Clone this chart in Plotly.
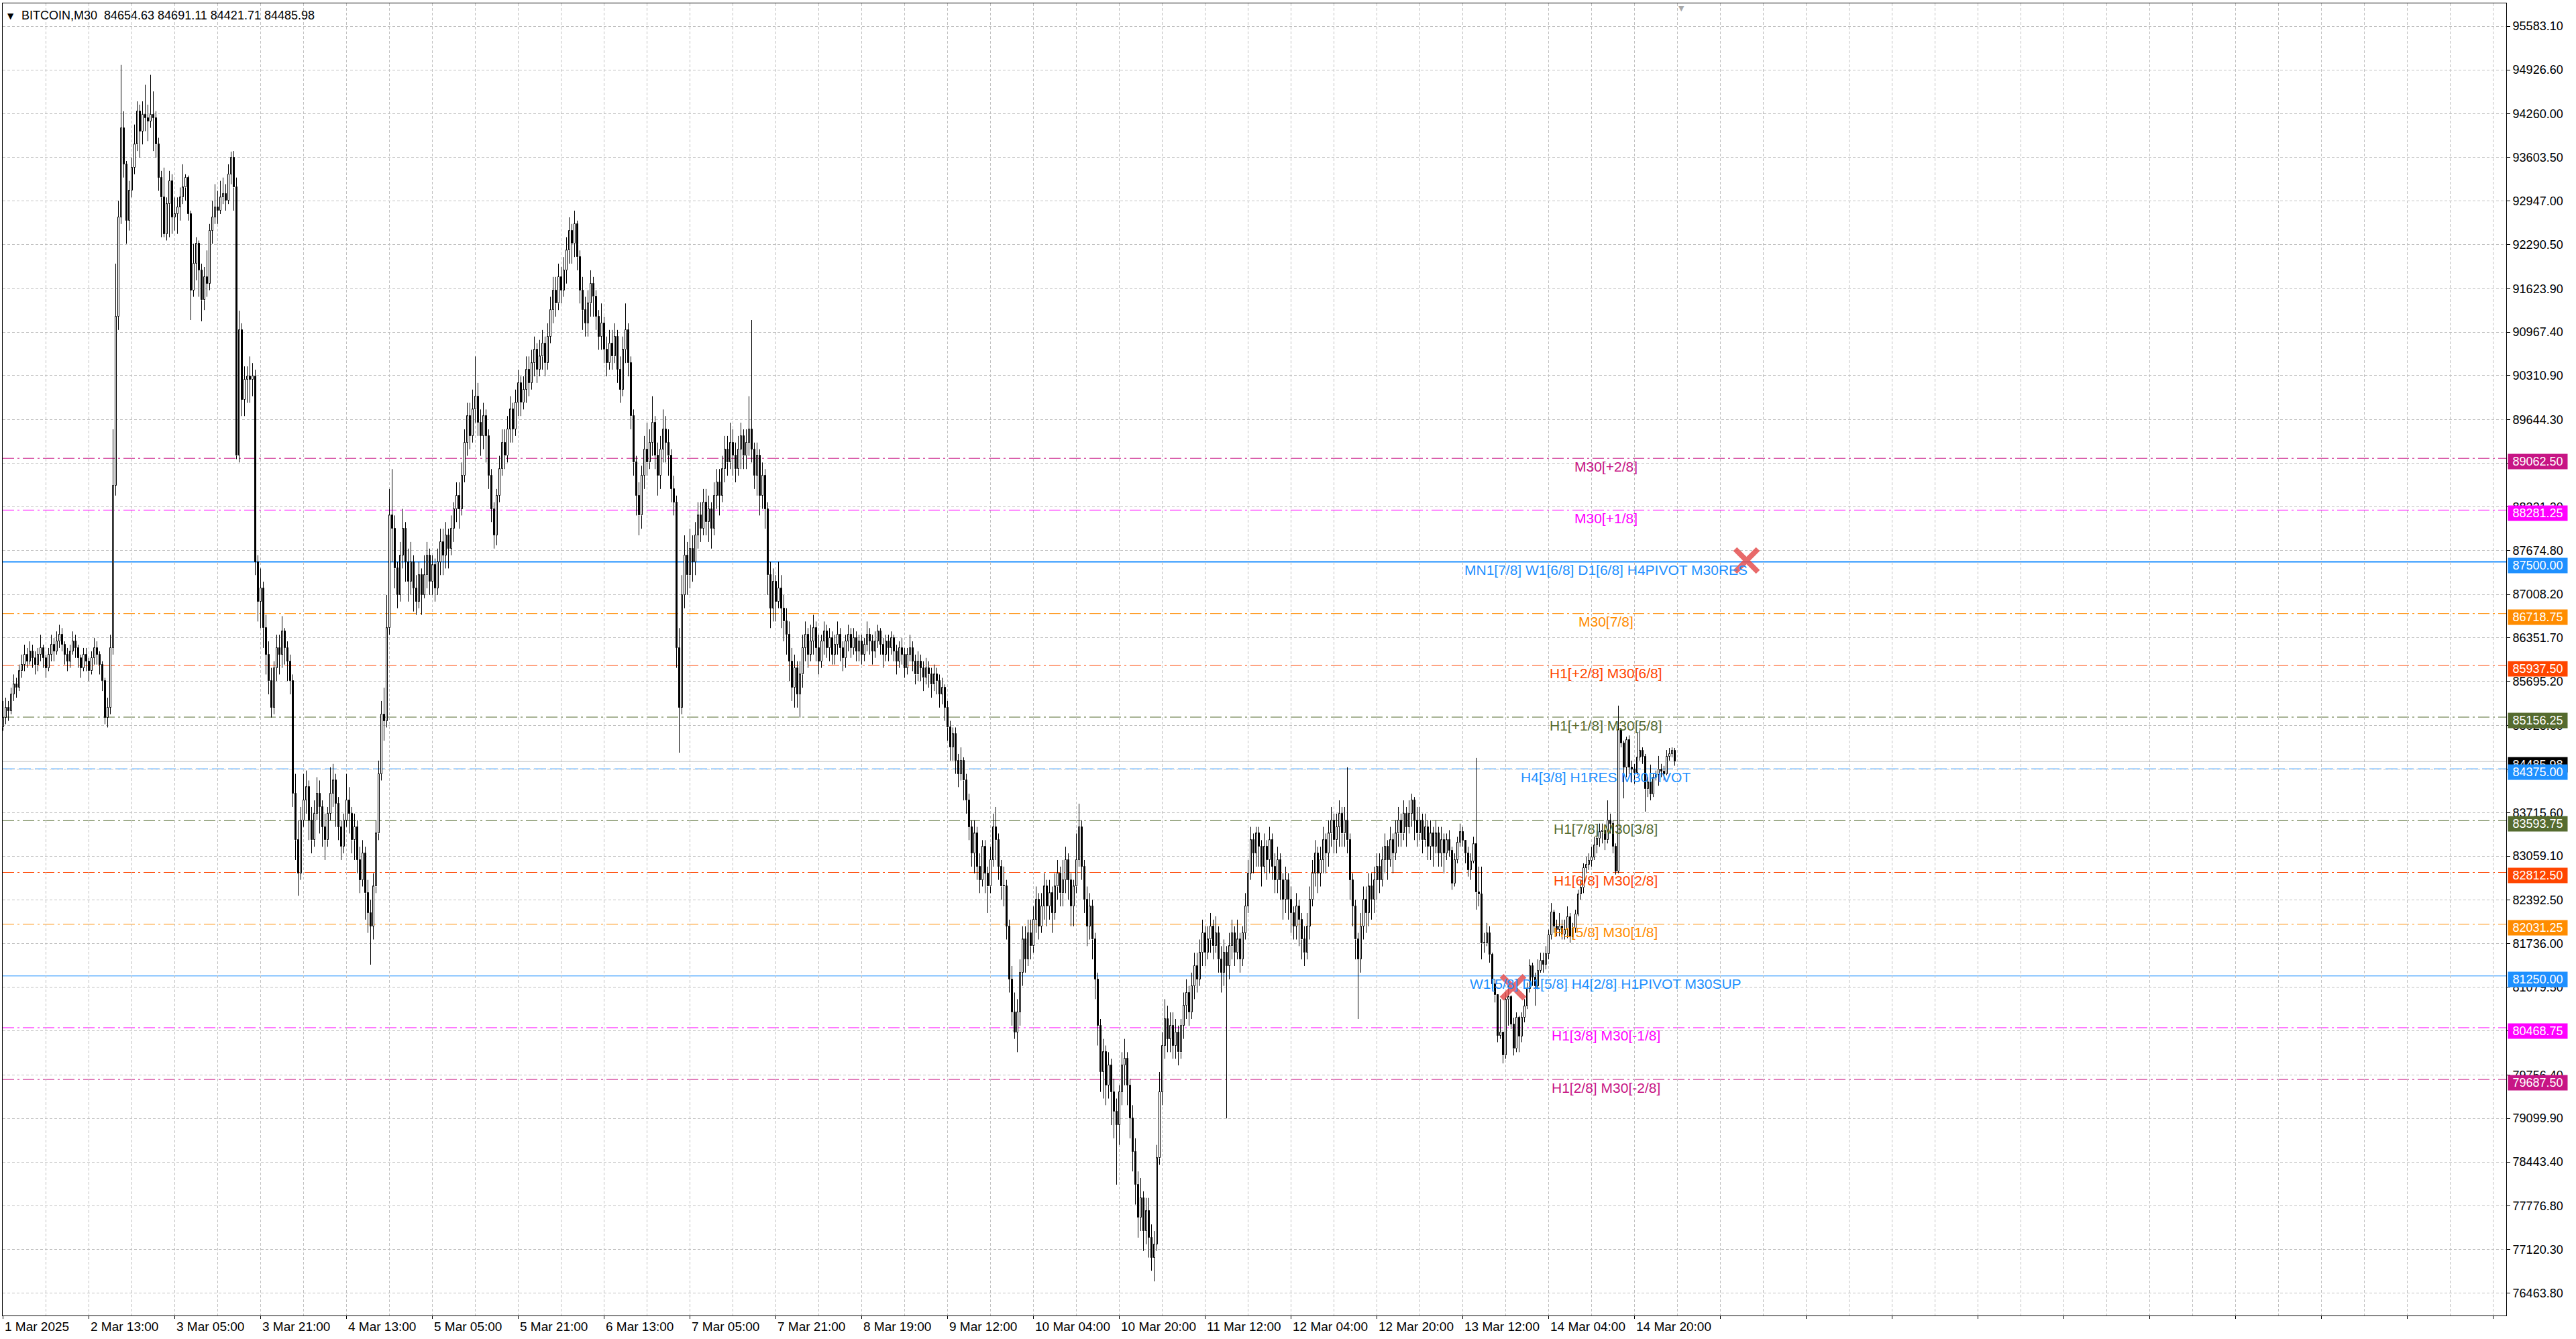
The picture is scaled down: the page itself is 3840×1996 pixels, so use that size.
import plotly.graph_objects as go

# ---------------- data ----------------
first_open = 85000.0
closes = [
    85150, 85300, 85250, 85500, 85650, 85600, 85850, 85950, 86100, 86000,
    86150, 86050, 85950, 86100, 86200, 86050, 85900, 86100, 86250, 86150,
    86300, 86400, 86250, 86100, 86000, 86150, 86300, 86200, 86050, 85900,
    86100, 86000, 85850, 86050, 86200, 86100, 85950, 85700, 85150, 85300,
    86200, 88650, 91200, 92700, 94050, 93500, 92650, 93100, 93450, 93800,
    94300, 94000, 94250, 94200, 94150, 94250, 94200, 93800, 93300, 93000,
    92450, 92900, 93250, 92700, 92750, 92850, 93000, 93150, 93300, 92750,
    91600, 92000, 92300, 91900, 91450, 91800, 91700, 92500, 92700, 92850,
    92800, 93000, 93050, 92950, 93350, 93600, 93150, 89100, 91000, 89950,
    90250, 90300, 90250, 90300, 87500, 86900, 87100, 86500, 86100, 85700,
    85300, 85900, 86200, 86100, 86450, 86200, 86000, 85700, 84000, 83300,
    82800, 83600, 83900, 84100, 83600, 83300, 83700, 84000, 83800, 83500,
    83300, 83700, 84000, 84200, 83850, 83500, 83200, 83600, 83900, 83700,
    83300, 83500, 83000, 82700, 83100, 82500, 82200, 82000, 82600, 83400,
    84300, 85200, 85100, 86500, 88200, 88000, 87400, 87000, 87600, 88000,
    87500, 87200, 87500, 87100, 86900, 87300, 87000, 87300, 87600, 87200,
    87450, 87100, 87500, 87800, 87600, 87900, 87700, 88000, 88300, 88500,
    88300, 88800, 89300, 89700, 89400, 89800, 90000, 89600, 89400, 89700,
    89400, 88800, 88300, 87900, 88500, 88900, 89300, 89100, 89500, 89800,
    89500, 89900, 90200, 89900, 90100, 90400, 90200, 90500, 90700, 90400,
    90600, 90800, 90500, 90900, 91300, 91600, 91400, 91800, 91600, 91900,
    92200, 92500, 92300, 92600, 92100, 91600, 91300, 91100, 91400, 91700,
    91500, 91200, 90900, 91100, 90700, 90500, 90800, 90600, 90900, 90400,
    90100, 90700, 91000, 90500, 89700, 89000, 88500, 88200, 88800, 89200,
    89000, 89300, 89600, 89100, 88800, 89200, 89500, 89300, 89100, 88600,
    88400, 86200, 85300, 87000, 87600, 87300, 87700, 87500, 87900, 88200,
    88000, 88400, 88100, 88300, 88000, 88500, 88700, 88500, 88900, 89200,
    89000, 89300, 89100, 88900, 89200, 89400, 89100, 89300, 89500, 89200,
    88800, 89100, 88500, 88800, 88300, 87300, 86800, 87200, 86900, 87100,
    86800, 86600, 86400, 86000, 85600, 85900, 85500, 85800, 86200, 86400,
    86100, 86300, 86500, 86200, 86000, 86300, 86450, 86200, 86350, 86100,
    86250, 86400, 86200, 86050, 86300, 86400, 86200, 86350, 86150, 86300,
    86100, 86250, 86400, 86300, 86150, 86300, 86450, 86250, 86100, 86300,
    86200, 86350, 86150, 86000, 86200, 86100, 85900, 86100, 86200, 86000,
    85800, 86000, 85900, 85750, 85900, 85800, 85650, 85800, 85700, 85500,
    85600, 85300, 85000, 84700, 84900, 84500, 84300, 84500, 84200, 83900,
    83500, 83100, 83400, 82900, 82700, 83200, 82800, 82600, 83000, 83500,
    83300, 82900, 82600, 82600, 82000, 81200, 80700, 80400, 80700, 81300,
    81800, 81500, 81900, 81700, 82100, 82400, 82000, 82300, 82600, 82300,
    82500, 82200, 82600, 82800, 82500, 82700, 83000, 82700, 82300, 82600,
    83000, 83500, 82900, 82400, 82000, 82300, 81800, 81200, 80500, 79800,
    80100, 79600, 79900, 79500, 79200, 79000, 79500, 79900, 80000, 79600,
    79100, 78600, 78100, 77600, 77900, 77400, 77700, 77300, 77000, 77200,
    78500, 79500, 80200, 80600, 80300, 80500, 80200, 80400, 80100, 80500,
    80800, 81000, 80700, 81100, 81400, 81200, 81600, 81900, 81600, 81800,
    82000, 81700, 81900, 81500, 81300, 81600, 81400, 81700, 81900, 81600,
    81800, 81500, 81900, 82300, 82800, 83300, 83100, 83400, 83200, 82900,
    83200, 83000, 83300, 82900, 82700, 83000, 82700, 82400, 82700, 82400,
    82200, 82000, 82300, 82100, 81800, 81600, 82000, 82400, 82800, 83100,
    82800, 83000, 83300, 83100, 83400, 83600, 83300, 83500, 83700, 83400,
    83600, 83300, 82700, 82300, 81800, 81500, 82000, 82400, 82200, 82600,
    82400, 82700, 82900, 82700, 83000, 83200, 83000, 83300, 83100, 83400,
    83600, 83400, 83700, 83500, 83700, 83900, 83600, 83400, 83600, 83300,
    83500, 83200, 83400, 83200, 83400, 83100, 83300, 83100, 83300, 83140,
    82650, 83000, 83260, 83420, 83290, 83100, 82850, 82980, 83240, 82510,
    82480, 81740, 81740, 81900, 81570, 81130, 80960, 80350, 80400, 80050,
    80890, 80930, 80520, 80150, 80620, 80340, 80620, 80790, 81060, 81400,
    81230, 81100, 81330, 81480, 81420, 81580, 81870, 82210, 82000, 81950,
    82000, 81880, 81950, 82140, 81840, 81970, 82180, 82480, 82580, 82880,
    82930, 82990, 83040, 83220, 83320, 83420, 83450, 83300, 83600, 83550,
    83200, 82830, 84960, 84760, 84400, 84810, 84400, 84370, 84320, 84550,
    84650, 84560, 84070, 84170, 83990, 84250, 84290, 84370, 84340, 84300,
    84560, 84600, 84654.63, 84485.98,
]
highs = [
    85400, 85450, 85400, 85600, 85800, 85750, 85950, 86100, 86250, 86200,
    86300, 86250, 86150, 86200, 86400, 86250, 86100, 86200, 86400, 86350,
    86450, 86550, 86500, 86300, 86200, 86250, 86450, 86400, 86250, 86100,
    86200, 86200, 86050, 86150, 86350, 86300, 86150, 86000, 85750, 85450,
    86400, 89500, 92000, 92950, 95000, 94300, 93550, 93250, 93600, 94100,
    94450, 94400, 94450, 94700, 94400, 94850, 94600, 94300, 93900, 93400,
    93450, 93000, 93400, 93350, 93000, 93000, 93150, 93500, 93350, 93330,
    92800, 92300, 92400, 92350, 92000, 91950, 92200, 92600, 92950, 93200,
    93100, 93250, 93300, 93200, 93500, 93690, 93700, 93300, 91290, 91100,
    90450, 90450, 90600, 90500, 90400, 87600, 87400, 87200, 86700, 86300,
    85900, 86000, 86400, 86400, 86680, 86500, 86300, 86100, 85800, 84300,
    83600, 83800, 84300, 84350, 84200, 83800, 83900, 84250, 84200, 83900,
    83700, 83800, 84400, 84450, 84300, 83950, 83600, 83700, 84300, 84100,
    83800, 83700, 83600, 83200, 83300, 83200, 82700, 82400, 82800, 83600,
    84500, 85400, 85600, 87000, 88600, 88900, 88200, 87500, 87800, 88300,
    88100, 87700, 87800, 87600, 87300, 87500, 87400, 87600, 87800, 87700,
    87600, 87550, 87700, 88000, 88000, 88100, 88000, 88200, 88400, 88700,
    88700, 89000, 89500, 89900, 89900, 90100, 90600, 90200, 89800, 89900,
    89800, 89500, 88900, 88400, 88600, 89100, 89500, 89500, 89700, 90000,
    89900, 90100, 90400, 90300, 90300, 90600, 90600, 90700, 90900, 90800,
    90850, 91000, 90900, 91100, 91500, 91800, 91800, 92000, 91950, 92100,
    92400, 92700, 92600, 92800, 92650, 92200, 91800, 91500, 91600, 91900,
    91800, 91600, 91300, 91400, 91200, 90900, 91000, 91000, 91100, 91000,
    90600, 90900, 91400, 91100, 90600, 89800, 89100, 88700, 88950, 89400,
    89600, 89500, 90000, 89700, 89300, 89400, 89800, 89700, 89500, 89200,
    88800, 88500, 86500, 87300, 87900, 87800, 88000, 87900, 88100, 88400,
    88400, 88600, 88600, 88500, 88400, 88700, 88900, 88900, 89100, 89400,
    89400, 89600, 89500, 89300, 89400, 89600, 89500, 89500, 90000, 91150,
    89300, 89300, 89200, 89000, 88900, 88400, 87500, 87400, 87300, 87500,
    87300, 87000, 86800, 86600, 86200, 86100, 86000, 86000, 86400, 86600,
    86500, 86550, 86700, 86600, 86400, 86400, 86600, 86550, 86500, 86450,
    86400, 86600, 86500, 86300, 86400, 86550, 86500, 86500, 86450, 86400,
    86400, 86350, 86600, 86500, 86400, 86450, 86550, 86500, 86350, 86400,
    86400, 86450, 86400, 86250, 86300, 86350, 86200, 86200, 86400, 86300,
    86100, 86150, 86100, 86000, 86050, 86000, 85900, 85950, 85900, 85800,
    85750, 85650, 85400, 85100, 85000, 85000, 84600, 84700, 84550, 84300,
    84000, 83600, 83600, 83500, 83100, 83300, 83300, 82900, 83200, 83700,
    83800, 83400, 83000, 82900, 82700, 82100, 81400, 81000, 80900, 81500,
    82000, 82000, 82100, 82100, 82300, 82600, 82500, 82500, 82800, 82700,
    82700, 82600, 82800, 83000, 82900, 83000, 83200, 83100, 82800, 82700,
    83400, 83850, 83600, 83000, 82600, 82500, 82400, 81900, 81300, 80600,
    80300, 80200, 80100, 80000, 79700, 79400, 79600, 80100, 80300, 80100,
    79700, 79300, 78800, 78300, 78200, 78000, 77900, 77900, 77500, 77400,
    78700, 79800, 80400, 80900, 80800, 80700, 80700, 80600, 80500, 80600,
    81000, 81200, 81100, 81300, 81600, 81600, 81800, 82100, 82000, 82000,
    82200, 82100, 82150, 82000, 81700, 81800, 81700, 81900, 82100, 82000,
    82100, 81900, 82000, 82500, 83000, 83500, 83400, 83500, 83500, 83300,
    83400, 83300, 83500, 83400, 83100, 83200, 83100, 82800, 82900, 82800,
    82600, 82300, 82500, 82400, 82200, 82000, 82200, 82600, 83000, 83300,
    83200, 83200, 83500, 83400, 83600, 83800, 83700, 83700, 83900, 83800,
    83800, 84400, 83400, 82800, 82400, 81900, 82200, 82600, 82600, 82800,
    82800, 82900, 83100, 83100, 83200, 83400, 83300, 83500, 83400, 83600,
    83800, 83700, 83900, 83800, 83900, 84000, 83950, 83800, 83800, 83700,
    83700, 83600, 83600, 83500, 83600, 83500, 83500, 83400, 83400, 83450,
    83200, 83100, 83350, 83550, 83500, 83300, 83200, 83100, 83350, 84540,
    82900, 82900, 81900, 82050, 82000, 81600, 81200, 80900, 80900, 80400,
    81000, 81100, 80960, 80620, 80700, 80650, 80700, 80900, 81150, 81500,
    81450, 81300, 81500, 81600, 81600, 81700, 81950, 82350, 82250, 82100,
    82200, 82100, 82100, 82300, 82200, 82050, 82250, 82550, 82700, 82950,
    83050, 83100, 83200, 83350, 83450, 83550, 83550, 83500, 83900, 83700,
    83600, 83250, 85330, 84990, 84800, 84860, 84880, 84500, 84450, 84930,
    84960, 84700, 84600, 84250, 84440, 84300, 84350, 84570, 84450, 84420,
    84660, 84690, 84700, 84691.11,
]
lows = [
    84950, 85050, 85100, 85200, 85400, 85450, 85550, 85750, 85850, 85900,
    85950, 85900, 85800, 85850, 86000, 85900, 85750, 85850, 86000, 86000,
    86100, 86200, 86150, 85950, 85850, 85900, 86100, 86050, 85900, 85750,
    85850, 85850, 85700, 85800, 85950, 85950, 85800, 85550, 85050, 85000,
    85200, 86100, 88500, 91000, 92600, 93300, 92300, 92500, 93000, 93350,
    93700, 93600, 93800, 94000, 93850, 94050, 93700, 93600, 93100, 92400,
    92400, 92350, 92400, 92450, 92500, 92450, 92650, 92900, 92950, 92650,
    91150, 91500, 91750, 91500, 91130, 91300, 91500, 91600, 92300, 92600,
    92600, 92750, 92900, 92800, 92900, 93200, 92800, 89050, 89000, 89700,
    89700, 89900, 89900, 90000, 87300, 86600, 86500, 86200, 85800, 85500,
    85150, 85200, 85700, 85800, 85900, 85950, 85700, 85500, 83800, 83000,
    82460, 82700, 83500, 83700, 83300, 83100, 83200, 83600, 83400, 83200,
    83000, 83200, 83600, 83800, 83500, 83300, 83000, 83100, 83500, 83400,
    83100, 83000, 82800, 82500, 82600, 82100, 81900, 81420, 81800, 82500,
    83300, 84200, 84800, 85000, 86400, 87500, 87100, 86800, 86900, 87400,
    87200, 86900, 87000, 86750, 86700, 86800, 86700, 86950, 87100, 87000,
    87000, 86900, 87000, 87300, 87300, 87400, 87400, 87600, 87800, 88100,
    88000, 88200, 88700, 89100, 89200, 89300, 89600, 89400, 89100, 89200,
    89000, 88600, 88100, 87700, 87750, 88400, 88800, 88900, 89000, 89300,
    89300, 89400, 89700, 89700, 89800, 89900, 90000, 90100, 90300, 90200,
    90300, 90400, 90300, 90400, 90800, 91100, 91200, 91300, 91400, 91500,
    91700, 92000, 92000, 92100, 91900, 91400, 91000, 90900, 90900, 91200,
    91200, 91000, 90700, 90700, 90500, 90300, 90400, 90400, 90500, 90200,
    89900, 90000, 90500, 90300, 89500, 88800, 88200, 87900, 88000, 88600,
    88800, 88900, 89100, 88900, 88500, 88600, 89000, 89000, 88800, 88400,
    88200, 85900, 84620, 85200, 86800, 87000, 87100, 87200, 87300, 87700,
    87800, 87900, 87900, 87800, 87700, 87900, 88300, 88200, 88400, 88700,
    88800, 88900, 88800, 88700, 88800, 88900, 88900, 88900, 89100, 89000,
    88600, 88500, 88200, 88300, 88000, 87000, 86500, 86600, 86600, 86800,
    86500, 86300, 86100, 85700, 85400, 85300, 85300, 85150, 85600, 86000,
    85900, 86000, 86100, 86000, 85800, 85900, 86100, 86050, 86000, 85950,
    85950, 86100, 86000, 85850, 85900, 86150, 86050, 86100, 86000, 86000,
    85950, 86000, 86150, 86100, 85950, 86050, 86200, 86100, 85900, 86000,
    86000, 86100, 86000, 85800, 85900, 85950, 85750, 85800, 86000, 85850,
    85650, 85700, 85700, 85550, 85650, 85600, 85450, 85550, 85500, 85300,
    85350, 85100, 84800, 84500, 84500, 84300, 84100, 84200, 83900, 83700,
    83300, 82900, 82800, 82700, 82500, 82600, 82500, 82200, 82500, 82900,
    83000, 82700, 82400, 82300, 81800, 81000, 80500, 80300, 80100, 80500,
    81100, 81300, 81400, 81500, 81600, 81900, 81800, 81900, 82100, 82000,
    82100, 81900, 82100, 82400, 82300, 82300, 82500, 82400, 82000, 82000,
    82500, 82900, 82700, 82200, 81700, 81800, 81500, 80900, 80200, 79500,
    79400, 79300, 79400, 79000, 78800, 78100, 78700, 79300, 79600, 79300,
    78800, 78300, 77800, 77300, 77400, 77100, 77200, 77000, 76800, 76640,
    77100, 78400, 79300, 80000, 80100, 80100, 80000, 80000, 79900, 80000,
    80300, 80600, 80500, 80600, 80900, 81000, 81100, 81400, 81400, 81500,
    81600, 81500, 81600, 81300, 81000, 81100, 79100, 81200, 81500, 81400,
    81500, 81300, 81400, 81800, 82200, 82700, 82800, 82900, 82900, 82600,
    82800, 82700, 82800, 82700, 82500, 82500, 82400, 82100, 82200, 82100,
    81900, 81800, 81800, 81700, 81500, 81400, 81500, 81800, 82300, 82600,
    82500, 82600, 82800, 82800, 82900, 83200, 83100, 83100, 83200, 83200,
    83200, 83100, 82400, 82000, 81500, 80600, 81300, 81800, 81900, 82000,
    82100, 82200, 82400, 82500, 82600, 82800, 82700, 82900, 82800, 83000,
    83200, 83200, 83300, 83200, 83400, 83500, 83300, 83200, 83300, 83100,
    83200, 83000, 83000, 82900, 83100, 82900, 82900, 82800, 83000, 83050,
    82550, 82600, 82950, 83200, 83200, 82950, 82750, 82700, 82950, 82250,
    82300, 81500, 81600, 81700, 81450, 81050, 80850, 80250, 80300, 79930,
    80000, 80500, 80450, 80050, 80100, 80100, 80250, 80550, 80750, 81000,
    81100, 80800, 81050, 81300, 81300, 81350, 81500, 81800, 81900, 81850,
    81850, 81800, 81800, 81820, 81750, 81800, 81900, 82150, 82400, 82500,
    82800, 82850, 82900, 83000, 83100, 83200, 83250, 83150, 83250, 83400,
    83100, 82780, 82800, 84700, 83930, 84250, 84300, 84170, 84150, 84280,
    84500, 84450, 83730, 83950, 83900, 83950, 84200, 84120, 84250, 84200,
    84280, 84500, 84550, 84421.71,
]

time_labels = ["1 Mar 2025", "2 Mar 13:00", "3 Mar 05:00", "3 Mar 21:00", "4 Mar 13:00",
               "5 Mar 05:00", "5 Mar 21:00", "6 Mar 13:00", "7 Mar 05:00", "7 Mar 21:00",
               "8 Mar 19:00", "9 Mar 12:00", "10 Mar 04:00", "10 Mar 20:00", "11 Mar 12:00",
               "12 Mar 04:00", "12 Mar 20:00", "13 Mar 12:00", "14 Mar 04:00", "14 Mar 20:00"]
bars_per_label = 32

price_ticks = [95583.10, 94926.60, 94260.00, 93603.50, 92947.00, 92290.50, 91623.90,
               90967.40, 90310.90, 89644.30, 88987.80, 88331.20, 87674.80, 87008.20,
               86351.70, 85695.20, 85028.60, 84372.10, 83715.60, 83059.10, 82392.50,
               81736.00, 81079.50, 80423.00, 79756.40, 79099.90, 78443.40, 77776.80,
               77120.30, 76463.80]

level_prices = [89062.50, 88281.25, 87500.00, 86718.75, 85937.50, 85156.25, 84375.00,
                83593.75, 82812.50, 82031.25, 81250.00, 80468.75, 79687.50]
level_names = ["M30[+2/8]", "M30[+1/8]", "MN1[7/8] W1[6/8] D1[6/8] H4PIVOT M30RES",
               "M30[7/8]", "H1[+2/8] M30[6/8]", "H1[+1/8] M30[5/8]",
               "H4[3/8] H1RES M30PIVOT", "H1[7/8] M30[3/8]", "H1[6/8] M30[2/8]",
               "H1[5/8] M30[1/8]", "W1[5/8] D1[5/8] H4[2/8] H1PIVOT M30SUP",
               "H1[3/8] M30[-1/8]", "H1[2/8] M30[-2/8]"]
level_colors = ["#C71585", "#FF00FF", "#1E90FF", "#FF8C00", "#FF4500", "#556B2F",
                "#1E90FF", "#556B2F", "#FF4500", "#FF8C00", "#1E90FF", "#FF00FF", "#C71585"]
level_styles = ["dashdot", "dashdot", "solid2", "dashdot", "dashdot", "dashdot",
                "dash", "dashdot", "dashdot", "dashdot", "solid", "dashdot", "dashdot"]

symbol_name = "BITCOIN,M30"
last_ohlc = [84654.63, 84691.11, 84421.71, 84485.98]
current_price = 84485.98

cross_bars = [649.75, 562.75]
cross_prices = [87520.0, 81080.0]

# ---------------- build ----------------
n = len(closes)
opens = [first_open] + closes[:-1]
idx = list(range(n))
his = [max(h, o, c) for h, o, c in zip(highs, opens, closes)]
los = [min(l, o, c) for l, o, c in zip(lows, opens, closes)]

wx, wy = [], []
for i in idx:
    top = max(opens[i], closes[i])
    bot = min(opens[i], closes[i])
    wx += [i, i, None, i, i, None]
    wy += [his[i], top, None, bot, los[i], None]

body_base = [min(o, c) for o, c in zip(opens, closes)]
body_h = [max(abs(c - o), 14) for o, c in zip(opens, closes)]
body_col = ["white" if c >= o else "black" for o, c in zip(opens, closes)]

FONT = "Liberation Sans, Arial, sans-serif"
GRID = "#C0C0C0"

fig = go.Figure()
fig.add_trace(go.Scatter(x=wx, y=wy, mode="lines", line=dict(color="black", width=1),
                         hoverinfo="skip", showlegend=False))
fig.add_trace(go.Bar(x=idx, y=body_h, base=body_base, width=0.5,
                     marker=dict(color=body_col, line=dict(color="black", width=1)),
                     hoverinfo="skip", showlegend=False))
fig.add_trace(go.Scatter(x=cross_bars, y=cross_prices, mode="markers",
                         marker=dict(symbol="x-thin", size=34,
                                     color="rgba(228,80,80,0.85)",
                                     line=dict(color="rgba(228,80,80,0.85)", width=8)),
                         hoverinfo="skip", showlegend=False))

shapes = []
for p, col, st in zip(level_prices, level_colors, level_styles):
    if st == "dashdot":
        dash, w = "17px,5px,3px,5px", 1
    elif st == "dash":
        dash, w = "18px,6px", 1
    elif st == "solid2":
        dash, w = "solid", 2
    else:
        dash, w = "solid", 1
    shapes.append(dict(type="line", xref="paper", x0=0, x1=1, yref="y", y0=p, y1=p,
                       line=dict(color=col, width=w, dash=dash), layer="below"))
shapes.append(dict(type="line", xref="paper", x0=0, x1=1, yref="y",
                   y0=current_price, y1=current_price,
                   line=dict(color="#C0C0C0", width=1), layer="below"))

annotations = []
label_x = 597.25
for p, name, col in zip(level_prices, level_names, level_colors):
    annotations.append(dict(x=label_x, y=p, xref="x", yref="y", text=name, showarrow=False,
                            xanchor="center", yanchor="middle", yshift=-12,
                            font=dict(family=FONT, size=21, color=col)))

def price_box(p, col):
    return dict(x=1, y=p, xref="paper", yref="y", text=f"{p:.2f}", showarrow=False,
                xanchor="left", yanchor="middle", xshift=2, yshift=-5,
                width=86, height=20, borderpad=1, align="center", bgcolor=col,
                font=dict(family=FONT, size=18, color="white"))

annotations.append(price_box(current_price, "black"))
for p, col in zip(level_prices, level_colors):
    annotations.append(price_box(p, col))

for k, lab in enumerate(time_labels):
    annotations.append(dict(x=k * bars_per_label, y=0, xref="x", yref="paper", text=lab,
                            showarrow=False, xanchor="left", yanchor="top", yshift=-4,
                            font=dict(family=FONT, size=19, color="black")))

title_txt = symbol_name + "\u00a0\u00a0" + " ".join(f"{v:.2f}" for v in last_ohlc)
annotations.append(dict(x=0, y=1, xref="paper", yref="paper", text=title_txt, showarrow=False,
                        xanchor="left", yanchor="top", xshift=26, yshift=-6,
                        font=dict(family=FONT, size=18, color="black")))
annotations.append(dict(x=0, y=1, xref="paper", yref="paper", text="\u25BC", showarrow=False,
                        xanchor="left", yanchor="top", xshift=5, yshift=-10,
                        font=dict(family="DejaVu Sans", size=12, color="black")))
annotations.append(dict(x=n + 1.5, y=1, xref="x", yref="paper", text="\u25BC", showarrow=False,
                        xanchor="center", yanchor="top", yshift=1,
                        font=dict(family="DejaVu Sans", size=11, color="#A8A8A8")))

fig.update_layout(
    width=3840, height=1996,
    margin=dict(l=4, r=104, t=5, b=35),
    paper_bgcolor="white", plot_bgcolor="white",
    showlegend=False, bargap=0, hovermode=False,
    shapes=shapes, annotations=annotations,
    xaxis=dict(range=[-0.125, 932.875], tick0=0, dtick=bars_per_label,
               showgrid=True, gridcolor=GRID, griddash="4px,3px", gridwidth=1,
               ticks="outside", ticklen=4, tickcolor="black", showticklabels=False,
               showline=True, linecolor="black", linewidth=1, mirror=True, zeroline=False,
               minor=dict(tick0=0, dtick=bars_per_label // 2, showgrid=True, gridcolor=GRID,
                          griddash="4px,3px", ticks="")),
    yaxis=dict(side="right", range=[76125, 95929], tickvals=price_ticks,
               ticktext=[f"{v:.2f}" for v in price_ticks],
               showgrid=True, gridcolor=GRID, griddash="4px,3px", gridwidth=1,
               ticks="outside", ticklen=5, tickcolor="black",
               tickfont=dict(family=FONT, size=18, color="black"),
               showline=True, linecolor="black", linewidth=1, mirror=True, zeroline=False),
)

fig.write_html("out.html", config={"displayModeBar": False},
               post_script="document.body.style.margin='0px';")
